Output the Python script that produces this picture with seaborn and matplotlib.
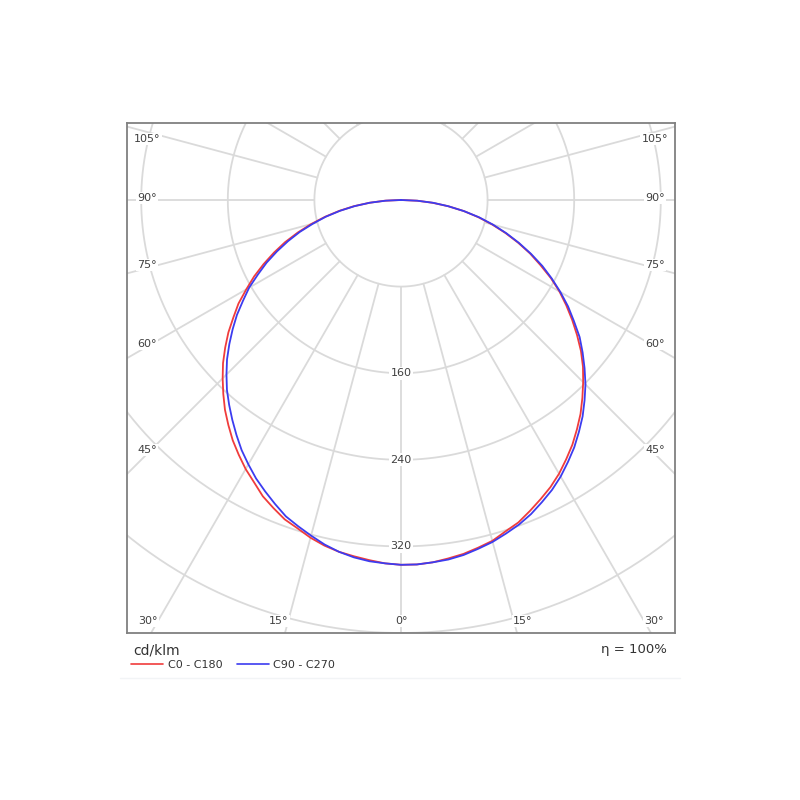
import numpy as np
import pandas as pd
import matplotlib
matplotlib.use("Agg")
import matplotlib.pyplot as plt
from matplotlib.lines import Line2D
import seaborn as sns

# ---------------- data (cd/klm), gamma every 2.5 deg ----------------
gamma = [0, 2.5, 5, 7.5, 10, 12.5, 15, 17.5, 20, 22.5, 25, 27.5, 30, 32.5, 35, 37.5,
         40, 42.5, 45, 47.5, 50, 52.5, 55, 57.5, 60, 62.5, 65, 67.5, 70, 72.5, 75,
         77.5, 80, 82.5, 85, 87.5, 90]
c0_right = [337, 337, 336, 334, 332, 329, 326, 321, 317, 311, 305, 299, 292, 284, 276, 267,
            258, 248, 238, 228, 217, 205, 193, 181, 169, 156, 142, 129, 115, 101, 87,
            73, 59, 44, 29, 15, 0]
c180_left = [337, 336, 334, 332, 330, 327, 323, 318, 314, 308, 302, 294, 287, 279, 271, 262,
             253, 243, 233, 223, 212, 201, 189, 178, 165, 153, 140, 127, 114, 100, 86,
             72, 58, 44, 29, 15, 0]
c90_right = [337, 337, 336, 335, 333, 330, 327, 323, 319, 314, 308, 302, 295, 287, 279, 270,
             261, 251, 241, 230, 219, 208, 195, 183, 170, 157, 144, 130, 116, 102, 88,
             74, 59, 44, 30, 15, 0]
c270_left = [337, 336, 335, 333, 330, 326, 321, 316, 311, 304, 297, 290, 282, 274, 265, 256,
             247, 238, 228, 218, 207, 196, 185, 173, 162, 149, 137, 124, 111, 98, 84,
             71, 57, 43, 29, 14, 0]

series_names = ["C0 - C180", "C90 - C270"]
series_colors = ["#f03c3c", "#3c3cf0"]

ring_values = [80, 160, 240, 320, 400, 480]
ring_labels = ["160", "240", "320"]
angle_labels = ["0°", "15°", "30°", "45°", "60°", "75°", "90°", "105°"]
unit_label = "cd/klm"
eff_label = "η = 100%"

# ---------------- build table ----------------
rows = []
for name, left, right in [(series_names[0], c180_left, c0_right),
                          (series_names[1], c270_left, c90_right)]:
    for g, v in zip(gamma[::-1], left[::-1]):
        t = np.radians(g)
        rows.append((name, -v * np.sin(t), -v * np.cos(t)))
    for g, v in zip(gamma[1:], right[1:]):
        t = np.radians(g)
        rows.append((name, v * np.sin(t), -v * np.cos(t)))
df = pd.DataFrame(rows, columns=["series", "x", "y"])

# ---------------- figure ----------------
sns.set_style("white")
plt.rcParams["font.family"] = ["DejaVu Sans"]
fig = plt.figure(figsize=(8, 8), dpi=100)
ax = fig.add_axes([127 / 800, 1 - 633 / 800, 548 / 800, 510 / 800])

scale = 1.0825  # px per unit
xl = 274 / scale
ax.set_xlim(-xl, xl)
ax.set_ylim(-400, 77 / scale)

grid_c = "#dadada"
th = np.linspace(0, 2 * np.pi, 721)
for r in ring_values:
    ax.plot(r * np.cos(th), r * np.sin(th), color=grid_c, lw=1.3, zorder=1)
for a in range(0, 360, 15):
    t = np.radians(a)
    ax.plot([80 * np.sin(t), 700 * np.sin(t)], [-80 * np.cos(t), -700 * np.cos(t)],
            color=grid_c, lw=1.3, zorder=1)

sns.lineplot(data=df, x="x", y="y", hue="series", sort=False, estimator=None,
             palette=dict(zip(series_names, series_colors)), lw=1.3, ax=ax,
             zorder=5, legend=False)

txt_c = "#404040"
bb = dict(facecolor="white", edgecolor="none", pad=1.0)
for lab, r in zip(ring_labels, [160, 240, 320]):
    ax.text(0, -r, lab, ha="center", va="center", fontsize=8, color=txt_c,
            bbox=bb, zorder=3)

def px2d(px, py):
    return (px - 401) / scale, (200 - py) / scale

side_pos = {"105°": 139, "90°": 198, "75°": 265, "60°": 344, "45°": 450}
for lab, py in side_pos.items():
    for px in (147, 655):
        x, y = px2d(px, py)
        ax.text(x, y, lab, ha="center", va="center", fontsize=8, color=txt_c,
                bbox=bb, zorder=3)
bottom_pos = {"30°": [148, 654], "15°": [279, 523], "0°": [401]}
for lab, pxs in bottom_pos.items():
    for px in pxs:
        x, y = px2d(px, 621)
        ax.text(x, y, lab, ha="center", va="center", fontsize=8, color=txt_c,
                bbox=bb, zorder=3)

ax.set_xticks([])
ax.set_yticks([])
ax.set_xlabel("")
ax.set_ylabel("")
for s in ax.spines.values():
    s.set_visible(True)
    s.set_color("#808080")
    s.set_linewidth(1.3)

fig.text(133 / 800, 1 - 651 / 800, unit_label, ha="left", va="center",
         fontsize=10, color="#333333")
fig.text(667 / 800, 1 - 650 / 800, eff_label, ha="right", va="center",
         fontsize=9.5, color="#333333")

handles = [Line2D([0], [0], color=c, lw=1.2) for c in series_colors]
fig.legend(handles, series_names, loc="center left",
           bbox_to_anchor=(131 / 800, 1 - 665 / 800), ncol=2, frameon=False,
           fontsize=8, handlelength=2.9, handletextpad=0.4, columnspacing=1.3,
           borderpad=0, borderaxespad=0, labelcolor="#333333")

fig.add_artist(Line2D([120 / 800, 680 / 800], [1 - 678 / 800, 1 - 678 / 800],
                      color="#f2f4f6", lw=1.0))

fig.savefig("out.png", dpi=100, facecolor="white")
